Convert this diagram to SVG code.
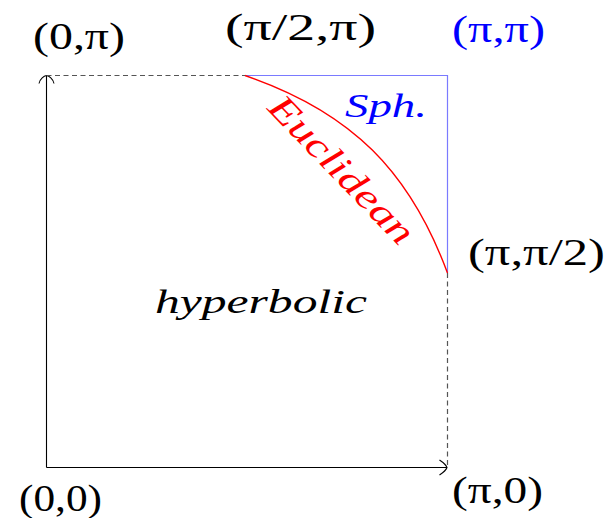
<svg xmlns="http://www.w3.org/2000/svg" width="612" height="518" viewBox="0 0 612 518">
<style>
.lbl{font-family:"Liberation Serif","DejaVu Serif",serif;font-size:37px;fill:#000}
.it{font-family:"Liberation Serif","DejaVu Serif",serif;font-style:italic;font-size:33px}
.axis{fill:none;stroke:#000;stroke-width:1.1}
.dash{fill:none;stroke:#555;stroke-width:1.2;stroke-dasharray:5 3.5}
</style>
<rect width="612" height="518" fill="#fff"/>
<g id="connectors">
<path class="axis" d="M46.5 467.5 V75.5"/>
<path class="axis" d="M46.5 467.5 H447"/>
<path class="axis" d="M39 83.5 C40 78.5 44 76 46.5 75.5 C49 76 53 78.5 54 83.5"/>
<path class="axis" d="M439.5 460 C444 463 446.5 466 447 467.5 C446.5 469 444 472 439.5 475"/>
<path class="dash" d="M46.5 75.5 H245"/>
<path class="dash" d="M447.5 273 V466"/>
<path d="M245 75.5 H447.5 V273" fill="none" stroke="#7a7aff" stroke-width="1.2"/>
<path d="M245 75.5 C352 112 410 172 447.5 273" fill="none" stroke="#f00" stroke-width="1.4"/>
</g>
<g id="label-0-pi"><text class="lbl" x="33" y="49" textLength="92" lengthAdjust="spacingAndGlyphs">(0,π)</text></g>
<g id="label-pi2-pi"><text class="lbl" x="225" y="40" textLength="151" lengthAdjust="spacingAndGlyphs">(π/2,π)</text></g>
<g id="label-pi-pi"><text class="lbl" x="452" y="42" textLength="93" lengthAdjust="spacingAndGlyphs" style="fill:#00f">(π,π)</text></g>
<g id="label-pi-pi2"><text class="lbl" x="468" y="265" textLength="137" lengthAdjust="spacingAndGlyphs">(π,π/2)</text></g>
<g id="label-0-0"><text class="lbl" x="19" y="511" textLength="83" lengthAdjust="spacingAndGlyphs">(0,0)</text></g>
<g id="label-pi-0"><text class="lbl" x="452" y="503" textLength="91" lengthAdjust="spacingAndGlyphs">(π,0)</text></g>
<g id="hyperbolic"><text class="it" x="155" y="313" textLength="212" lengthAdjust="spacingAndGlyphs" fill="#000">hyperbolic</text></g>
<g id="spherical"><text class="it" x="345" y="117" textLength="82" lengthAdjust="spacingAndGlyphs" fill="#00f">Sph.</text></g>
<g id="euclidean"><text class="it" transform="translate(333,178) rotate(46)" text-anchor="middle" textLength="192" lengthAdjust="spacingAndGlyphs" style="font-size:37px" fill="#f00">Euclidean</text></g>
</svg>
